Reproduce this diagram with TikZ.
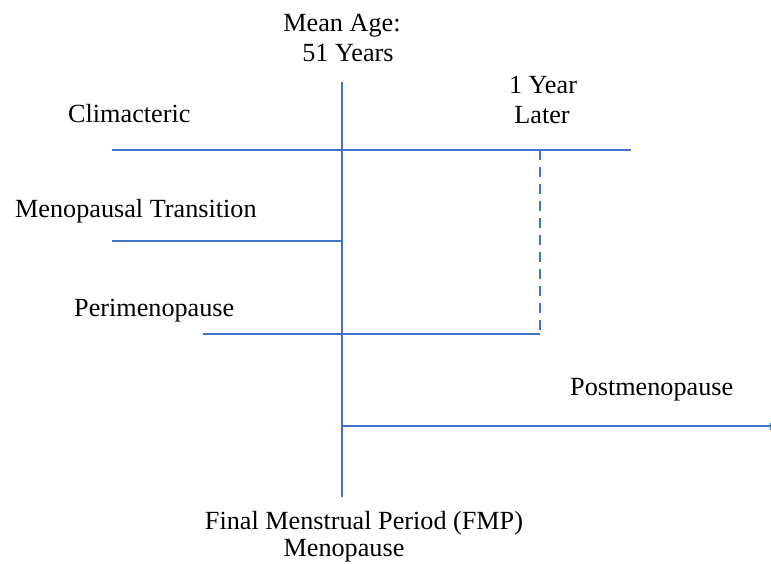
\documentclass[tikz,border=0pt]{standalone}
\usepackage{fontspec}
\setmainfont{Liberation Serif}
\usetikzlibrary{arrows.meta}
\definecolor{lineblue}{RGB}{68,114,196}
\begin{document}
\begin{tikzpicture}[x=1pt,y=-1pt,
  ln/.style={draw=lineblue,line width=1.5pt},
  dsh/.style={ln,dash pattern=on 10pt off 7pt},
  lbl/.style={inner sep=0pt,font=\fontsize{26.2}{30}\selectfont,text=black}]
\useasboundingbox (0,0) rectangle (771,563);
% coordinates
\coordinate (vtop) at (342,82);
\coordinate (vbot) at (342,497);
\coordinate (cl) at (112,150);
\coordinate (cr) at (631,150);
\coordinate (dtop) at (540,150);
\coordinate (dbot) at (540,335);
\coordinate (ml) at (112,241);
\coordinate (mr) at (342,241);
\coordinate (pl) at (203,334);
\coordinate (pr) at (540,334);
\coordinate (ql) at (342,426);
\coordinate (qr) at (771,426);
% lines
\draw[ln] (vtop) -- (vbot);
\draw[ln] (cl) -- (cr);
\draw[dsh] (dtop) -- (dbot);
\draw[ln] (ml) -- (mr);
\draw[ln] (pl) -- (pr);
\draw[ln,-{Bar[width=7pt,line width=1.5pt]}] (ql) -- (qr);
% labels
\node[lbl,anchor=base] (mean) at (342,31) {Mean Age:};
\node[lbl,anchor=base] (yrs) at (348,61) {51 Years};
\node[lbl,anchor=base] (oney) at (543,93) {1 Year};
\node[lbl,anchor=base] (later) at (542,123) {Later};
\node[lbl,anchor=base west] (clim) at (68,122) {Climacteric};
\node[lbl,anchor=base west] (mt) at (15,217) {Menopausal Transition};
\node[lbl,anchor=base west] (peri) at (74,316) {Perimenopause};
\node[lbl,anchor=base west] (post) at (570,395) {Postmenopause};
\node[lbl,anchor=base] (fmp) at (364,529) {Final Menstrual Period (FMP)};
\node[lbl,anchor=base] (meno) at (344,556) {Menopause};
\end{tikzpicture}
\end{document}
